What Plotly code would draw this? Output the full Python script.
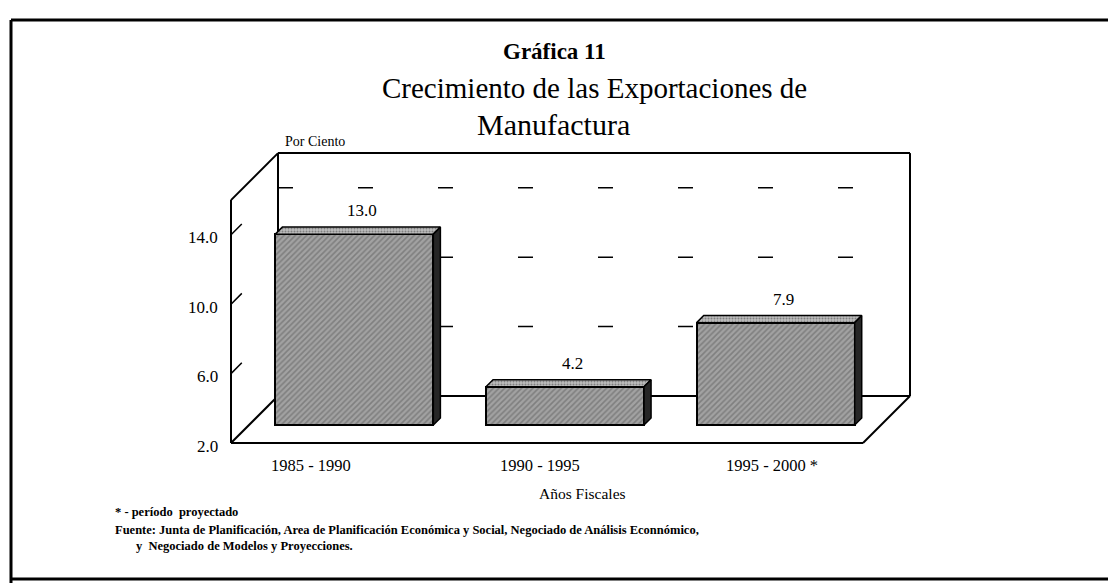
import plotly.graph_objects as go

# ---- data ----
categories = ["1985 - 1990", "1990 - 1995", "1995 - 2000 *"]
values = [13.0, 4.2, 7.9]
value_labels = ["13.0", "4.2", "7.9"]
ytick_vals = [2, 6, 10, 14]
ytick_text = ["2.0", "6.0", "10.0", "14.0"]
grid_vals = [6, 10, 14]

# ---- geometry ----
W, H = 1116, 583
OFF = 8                    # page body margin
PX_PER_X = 210.67          # pixels per category slot
PX_PER_V = 17.35           # pixels per unit of value
X_LEFT_PX, V_BASE_PX = 231 - OFF, 443 - OFF
YMIN, YMAX = 2, 16
xmin = -0.5 - X_LEFT_PX / PX_PER_X
xmax = xmin + W / PX_PER_X
vmin = YMIN - (H - V_BASE_PX) / PX_PER_V
vmax = YMIN + V_BASE_PX / PX_PER_V

DX = 47 / PX_PER_X        # depth offset of back wall
DV = 47 / PX_PER_V
BAR_DEPTH = 0.383
BAR_THICK = 0.15
BAR_W = 0.75

XL, XR = -0.5, len(categories) - 0.5

FONT = "Liberation Serif"

fig = go.Figure()

shapes = []
def seg(x0, y0, x1, y1, width=2, dash=None, layer="below"):
    d = dict(type="line", xref="x", yref="y", x0=x0, y0=y0, x1=x1, y1=y1,
             line=dict(color="black", width=width), layer=layer)
    if dash:
        d["line"]["dash"] = dash
    shapes.append(d)

seg(XL, YMIN, XL, YMAX)
seg(XL, YMAX, XL + DX, YMAX + DV)
seg(XL + DX, YMAX + DV, XR + DX, YMAX + DV)
seg(XR + DX, YMAX + DV, XR + DX, YMIN + DV)
seg(XL + DX, YMIN + DV, XL + DX, YMAX + DV)
seg(XL + DX, YMIN + DV, XR + DX, YMIN + DV)
seg(XL, YMIN, XR, YMIN)
seg(XL, YMIN, XL + DX, YMIN + DV)
seg(XR, YMIN, XR + DX, YMIN + DV)
for g in grid_vals:
    seg(XL + DX, g + DV, XR + DX, g + DV, width=1.5, dash="15px,65px")
    seg(XL, g, XL + 0.23 * DX, g + 0.23 * DV, width=1.5)

def P(px, py):
    return (px - OFF) / W, 1 - (py - OFF) / H

for (a, b, c, d) in [(11, 20, 11, 590), (11, 20, 1130, 20), (11, 579, 1130, 579)]:
    x0, y0 = P(a, b)
    x1, y1 = P(c, d)
    shapes.append(dict(type="line", xref="paper", yref="paper", x0=x0, x1=x1, y0=y0, y1=y1,
                       line=dict(color="black", width=3)))

bx = [i + BAR_DEPTH * DX for i in range(len(values))]
bbase = YMIN + BAR_DEPTH * DV
fig.add_trace(go.Bar(
    x=bx, y=[v - YMIN for v in values], base=[bbase] * len(values), width=BAR_W,
    marker=dict(color="#8c8c8c",
                line=dict(color="black", width=2),
                pattern=dict(shape="/", fgcolor="#5c5c5c", bgcolor="#a2a2a2",
                             size=4, solidity=0.4)),
    hoverinfo="skip", showlegend=False))

tx, tv = BAR_THICK * DX, BAR_THICK * DV
for i, v in enumerate(values):
    x0, x1 = bx[i] - BAR_W / 2, bx[i] + BAR_W / 2
    vt = v + BAR_DEPTH * DV
    vb = bbase
    fig.add_trace(go.Scatter(
        x=[x0, x1, x1 + tx, x0 + tx, x0], y=[vt, vt, vt + tv, vt + tv, vt],
        mode="lines", fill="toself", fillcolor="#a8a8a8",
        fillpattern=dict(shape=".", fgcolor="#444444", bgcolor="#bdbdbd", size=3, solidity=0.35),
        line=dict(color="black", width=1.5), hoverinfo="skip", showlegend=False))
    fig.add_trace(go.Scatter(
        x=[x1, x1 + tx, x1 + tx, x1, x1], y=[vb, vb + tv, vt + tv, vt, vb],
        mode="lines", fill="toself", fillcolor="#262626",
        line=dict(color="black", width=1.5), hoverinfo="skip", showlegend=False))

annotations = []
for i, v in enumerate(values):
    annotations.append(dict(x=bx[i] + tx / 2, y=v + BAR_DEPTH * DV + tv, xref="x", yref="y",
                            text=value_labels[i], showarrow=False, yanchor="bottom",
                            yshift=5, xshift=4,
                            font=dict(family=FONT, size=17, color="black")))
for val, txt in zip(ytick_vals, ytick_text):
    annotations.append(dict(x=XL, y=val, xref="x", yref="y", text=txt, showarrow=False,
                            xanchor="right", yanchor="middle", xshift=-11, yshift=-3,
                            font=dict(family=FONT, size=17, color="black")))

def ptext(text, px, py, size, bold=False, anchor="center"):
    if bold:
        text = "<b>" + text + "</b>"
    x, y = P(px, py)
    annotations.append(dict(x=x, y=y, xref="paper", yref="paper", text=text,
                            showarrow=False, xanchor=anchor, yanchor="middle",
                            font=dict(family=FONT, size=size, color="black")))

cat_px = [311, 540, 772]
for c, px in zip(categories, cat_px):
    ptext(c, px, 465, 16.5)

ptext("Gráfica 11", 554, 52, 23, bold=True)
ptext("Crecimiento de las Exportaciones de", 594, 88, 29)
ptext("Manufactura", 553, 124, 30)
ptext("Por Ciento", 283, 141, 14, anchor="left")
ptext("Años Fiscales", 582, 493, 15.5)
ptext("* - período  proyectado", 113, 512, 12.5, bold=True, anchor="left")
ptext("Fuente: Junta de Planificación, Area de Planificación Económica y Social, Negociado de Análisis Econnómico,",
      113, 530, 12.5, bold=True, anchor="left")
ptext("y  Negociado de Modelos y Proyecciones.", 134, 546, 12.5, bold=True, anchor="left")

fig.update_layout(
    width=W, height=H, margin=dict(l=0, r=0, t=0, b=0),
    paper_bgcolor="white", plot_bgcolor="white",
    xaxis=dict(range=[xmin, xmax], visible=False, fixedrange=True),
    yaxis=dict(range=[vmin, vmax], visible=False, fixedrange=True),
    shapes=shapes, annotations=annotations, showlegend=False, bargap=0,
)

fig.write_html("out.html")
